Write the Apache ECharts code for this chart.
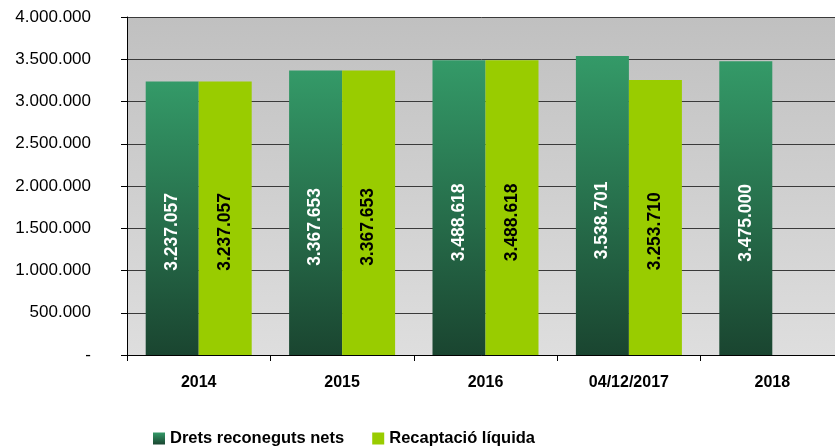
<!DOCTYPE html>
<html>
<head>
<meta charset="utf-8">
<script src="https://cdn.jsdelivr.net/npm/echarts@6/dist/echarts.min.js"></script>
<style>
html,body{margin:0;padding:0;background:#fff;}
#chart{width:835px;height:446px;}
</style>
</head>
<body>
<div id="chart"></div>
<script>
var categories = ['2014', '2015', '2016', '04/12/2017', '2018'];
var seriesNames = ['Drets reconeguts nets', 'Recaptació líquida'];
var dretsValues = [3237057, 3367653, 3488618, 3538701, 3475000];
var recaptacioValues = [3237057, 3367653, 3488618, 3253710, null];
var yTicks = [0, 500000, 1000000, 1500000, 2000000, 2500000, 3000000, 3500000, 4000000];

function fmt(v) {
  if (v === 0) return '-';
  return String(Math.round(v)).replace(/\B(?=(\d{3})+(?!\d))/g, '.');
}

var darkGrad = new echarts.graphic.LinearGradient(0, 0, 0, 1, [
  {offset: 0, color: '#349a68'},
  {offset: 1, color: '#1a4530'}
]);
var font = 'Liberation Sans, Arial, sans-serif';

var chart = echarts.init(document.getElementById('chart'));
chart.setOption({
  animation: false,
  grid: {
    left: 127, width: 717, top: 17, bottom: 91,
    outerBoundsMode: 'none',
    containLabel: false,
    show: true, borderWidth: 0,
    backgroundColor: new echarts.graphic.LinearGradient(0, 0, 0, 1, [
      {offset: 0, color: '#c0c0c0'},
      {offset: 1, color: '#dedede'}
    ])
  },
  legend: {
    top: 425, left: 148,
    itemWidth: 12, itemHeight: 12, itemGap: 28,
    icon: 'rect',
    textStyle: {fontFamily: font, fontWeight: 'bold', fontSize: 16.5, color: '#000'},
    data: seriesNames
  },
  xAxis: {
    type: 'category',
    data: categories,
    axisLine: {lineStyle: {color: '#000', width: 1}},
    axisTick: {show: true, length: 6, lineStyle: {color: '#000'}},
    axisLabel: {fontFamily: font, fontWeight: 'bold', fontSize: 16, color: '#000', margin: 20}
  },
  yAxis: {
    type: 'value',
    min: 0, max: 4000000, interval: 500000,
    axisLine: {show: true, lineStyle: {color: '#000', width: 1}},
    axisTick: {show: true, length: 6, lineStyle: {color: '#000'}},
    splitLine: {show: true, lineStyle: {color: '#3a3a3a', width: 1}},
    axisLabel: {
      fontFamily: font, fontSize: 17, color: '#000', margin: 36,
      formatter: function (v) { return yTicks.indexOf(v) >= 0 ? fmt(v) : ''; }
    }
  },
  series: [
    {
      name: seriesNames[0], type: 'bar', data: dretsValues,
      barWidth: 53, barGap: '0%',
      itemStyle: {color: darkGrad},
      label: {
        show: true, position: ['50%', '55%'], rotate: 90,
        align: 'center', verticalAlign: 'middle',
        fontFamily: font, fontWeight: 'bold', fontSize: 17.5, color: '#fff',
        formatter: function (p) { return fmt(p.value); }
      }
    },
    {
      name: seriesNames[1], type: 'bar', data: recaptacioValues,
      barWidth: 53, barGap: '0%',
      itemStyle: {color: '#99cc00'},
      label: {
        show: true, position: ['50%', '55%'], rotate: 90,
        align: 'center', verticalAlign: 'middle',
        fontFamily: font, fontWeight: 'bold', fontSize: 17.5, color: '#000',
        formatter: function (p) { return fmt(p.value); }
      }
    }
  ]
});
</script>
</body>
</html>
